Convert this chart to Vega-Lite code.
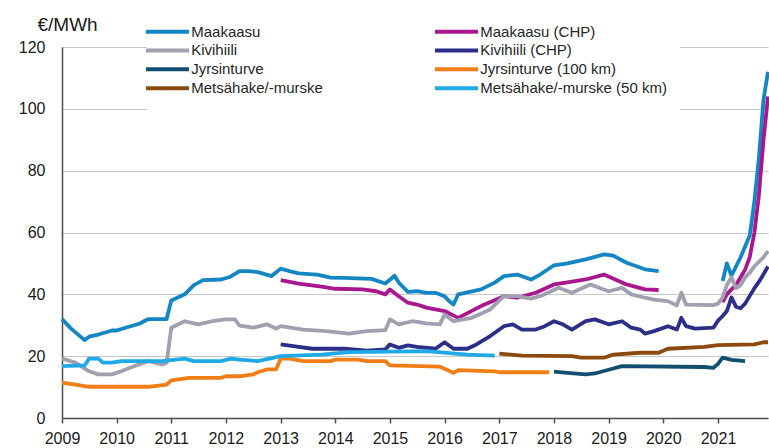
{
  "$schema": "https://vega.github.io/schema/vega-lite/v6.json",
  "autosize": {"type": "none"},
  "width": 706,
  "height": 371,
  "padding": {"left": 62, "top": 47, "right": 1, "bottom": 30},
  "background": "white",
  "config": {
    "font": "Liberation Sans",
    "view": {"stroke": null}
  },
  "data": {
    "values": [
      {"s": "Maakaasu", "p": 1, "d": "2009-01-01", "v": 32},
      {"s": "Maakaasu", "p": 1, "d": "2009-03-01", "v": 29},
      {"s": "Maakaasu", "p": 1, "d": "2009-06-01", "v": 25.2},
      {"s": "Maakaasu", "p": 1, "d": "2009-07-01", "v": 26.3},
      {"s": "Maakaasu", "p": 1, "d": "2009-09-01", "v": 27},
      {"s": "Maakaasu", "p": 1, "d": "2009-12-01", "v": 28.3},
      {"s": "Maakaasu", "p": 1, "d": "2010-01-01", "v": 28.3},
      {"s": "Maakaasu", "p": 1, "d": "2010-03-01", "v": 29.2},
      {"s": "Maakaasu", "p": 1, "d": "2010-06-01", "v": 30.5},
      {"s": "Maakaasu", "p": 1, "d": "2010-08-01", "v": 32},
      {"s": "Maakaasu", "p": 1, "d": "2010-12-01", "v": 32},
      {"s": "Maakaasu", "p": 1, "d": "2011-01-01", "v": 38},
      {"s": "Maakaasu", "p": 1, "d": "2011-04-01", "v": 40},
      {"s": "Maakaasu", "p": 1, "d": "2011-06-01", "v": 43},
      {"s": "Maakaasu", "p": 1, "d": "2011-08-01", "v": 44.6},
      {"s": "Maakaasu", "p": 1, "d": "2011-12-01", "v": 44.8},
      {"s": "Maakaasu", "p": 1, "d": "2012-02-01", "v": 45.7},
      {"s": "Maakaasu", "p": 1, "d": "2012-04-01", "v": 47.5},
      {"s": "Maakaasu", "p": 1, "d": "2012-06-01", "v": 47.5},
      {"s": "Maakaasu", "p": 1, "d": "2012-08-01", "v": 47.2},
      {"s": "Maakaasu", "p": 1, "d": "2012-11-01", "v": 45.9},
      {"s": "Maakaasu", "p": 1, "d": "2013-01-01", "v": 48.3},
      {"s": "Maakaasu", "p": 1, "d": "2013-03-01", "v": 47.5},
      {"s": "Maakaasu", "p": 1, "d": "2013-05-01", "v": 46.8},
      {"s": "Maakaasu", "p": 1, "d": "2013-09-01", "v": 46.4},
      {"s": "Maakaasu", "p": 1, "d": "2013-12-01", "v": 45.4},
      {"s": "Maakaasu", "p": 1, "d": "2014-03-01", "v": 45.3},
      {"s": "Maakaasu", "p": 1, "d": "2014-09-01", "v": 45.0},
      {"s": "Maakaasu", "p": 1, "d": "2014-12-01", "v": 43.5},
      {"s": "Maakaasu", "p": 1, "d": "2015-02-01", "v": 46},
      {"s": "Maakaasu", "p": 1, "d": "2015-03-01", "v": 43.8},
      {"s": "Maakaasu", "p": 1, "d": "2015-05-01", "v": 40.8},
      {"s": "Maakaasu", "p": 1, "d": "2015-07-01", "v": 41},
      {"s": "Maakaasu", "p": 1, "d": "2015-09-01", "v": 40.5},
      {"s": "Maakaasu", "p": 1, "d": "2015-11-01", "v": 40.5},
      {"s": "Maakaasu", "p": 1, "d": "2016-01-01", "v": 39.4},
      {"s": "Maakaasu", "p": 1, "d": "2016-02-01", "v": 37.8},
      {"s": "Maakaasu", "p": 1, "d": "2016-03-01", "v": 36.7},
      {"s": "Maakaasu", "p": 1, "d": "2016-04-01", "v": 40},
      {"s": "Maakaasu", "p": 1, "d": "2016-09-01", "v": 41.6},
      {"s": "Maakaasu", "p": 1, "d": "2016-12-01", "v": 43.8},
      {"s": "Maakaasu", "p": 1, "d": "2017-02-01", "v": 45.9},
      {"s": "Maakaasu", "p": 1, "d": "2017-05-01", "v": 46.4},
      {"s": "Maakaasu", "p": 1, "d": "2017-08-01", "v": 44.8},
      {"s": "Maakaasu", "p": 1, "d": "2017-10-01", "v": 46.4},
      {"s": "Maakaasu", "p": 1, "d": "2018-01-01", "v": 49.4},
      {"s": "Maakaasu", "p": 1, "d": "2018-04-01", "v": 50},
      {"s": "Maakaasu", "p": 1, "d": "2018-08-01", "v": 51.3},
      {"s": "Maakaasu", "p": 1, "d": "2018-12-01", "v": 52.9},
      {"s": "Maakaasu", "p": 1, "d": "2019-02-01", "v": 52.5},
      {"s": "Maakaasu", "p": 1, "d": "2019-05-01", "v": 50.2},
      {"s": "Maakaasu", "p": 1, "d": "2019-09-01", "v": 48.1},
      {"s": "Maakaasu", "p": 1, "d": "2019-12-01", "v": 47.5},
      {"s": "Maakaasu", "p": 2, "d": "2021-02-01", "v": 44.3},
      {"s": "Maakaasu", "p": 2, "d": "2021-03-01", "v": 50},
      {"s": "Maakaasu", "p": 2, "d": "2021-04-01", "v": 46},
      {"s": "Maakaasu", "p": 2, "d": "2021-05-01", "v": 49},
      {"s": "Maakaasu", "p": 2, "d": "2021-06-01", "v": 52},
      {"s": "Maakaasu", "p": 2, "d": "2021-07-01", "v": 55.5},
      {"s": "Maakaasu", "p": 2, "d": "2021-08-01", "v": 59},
      {"s": "Maakaasu", "p": 2, "d": "2021-09-01", "v": 70},
      {"s": "Maakaasu", "p": 2, "d": "2021-10-01", "v": 84},
      {"s": "Maakaasu", "p": 2, "d": "2021-11-01", "v": 103},
      {"s": "Maakaasu", "p": 2, "d": "2021-12-01", "v": 112},

      {"s": "Maakaasu (CHP)", "p": 1, "d": "2013-01-01", "v": 44.6},
      {"s": "Maakaasu (CHP)", "p": 1, "d": "2013-05-01", "v": 43.5},
      {"s": "Maakaasu (CHP)", "p": 1, "d": "2013-10-01", "v": 42.5},
      {"s": "Maakaasu (CHP)", "p": 1, "d": "2014-01-01", "v": 41.8},
      {"s": "Maakaasu (CHP)", "p": 1, "d": "2014-07-01", "v": 41.6},
      {"s": "Maakaasu (CHP)", "p": 1, "d": "2014-10-01", "v": 41.0},
      {"s": "Maakaasu (CHP)", "p": 1, "d": "2014-12-01", "v": 40.0},
      {"s": "Maakaasu (CHP)", "p": 1, "d": "2015-01-01", "v": 41.6},
      {"s": "Maakaasu (CHP)", "p": 1, "d": "2015-03-01", "v": 39.4},
      {"s": "Maakaasu (CHP)", "p": 1, "d": "2015-05-01", "v": 37.3},
      {"s": "Maakaasu (CHP)", "p": 1, "d": "2015-07-01", "v": 36.7},
      {"s": "Maakaasu (CHP)", "p": 1, "d": "2015-09-01", "v": 35.7},
      {"s": "Maakaasu (CHP)", "p": 1, "d": "2016-01-01", "v": 34.6},
      {"s": "Maakaasu (CHP)", "p": 1, "d": "2016-04-01", "v": 32.4},
      {"s": "Maakaasu (CHP)", "p": 1, "d": "2016-09-01", "v": 36.2},
      {"s": "Maakaasu (CHP)", "p": 1, "d": "2017-02-01", "v": 39.4},
      {"s": "Maakaasu (CHP)", "p": 1, "d": "2017-05-01", "v": 38.9},
      {"s": "Maakaasu (CHP)", "p": 1, "d": "2017-09-01", "v": 40.5},
      {"s": "Maakaasu (CHP)", "p": 1, "d": "2018-01-01", "v": 43.2},
      {"s": "Maakaasu (CHP)", "p": 1, "d": "2018-04-01", "v": 43.9},
      {"s": "Maakaasu (CHP)", "p": 1, "d": "2018-08-01", "v": 44.8},
      {"s": "Maakaasu (CHP)", "p": 1, "d": "2018-12-01", "v": 46.4},
      {"s": "Maakaasu (CHP)", "p": 1, "d": "2019-05-01", "v": 43.2},
      {"s": "Maakaasu (CHP)", "p": 1, "d": "2019-09-01", "v": 41.6},
      {"s": "Maakaasu (CHP)", "p": 1, "d": "2019-12-01", "v": 41.4},
      {"s": "Maakaasu (CHP)", "p": 2, "d": "2021-02-01", "v": 37.5},
      {"s": "Maakaasu (CHP)", "p": 2, "d": "2021-03-01", "v": 40},
      {"s": "Maakaasu (CHP)", "p": 2, "d": "2021-04-01", "v": 41.6},
      {"s": "Maakaasu (CHP)", "p": 2, "d": "2021-05-01", "v": 43},
      {"s": "Maakaasu (CHP)", "p": 2, "d": "2021-06-01", "v": 45.5},
      {"s": "Maakaasu (CHP)", "p": 2, "d": "2021-07-01", "v": 48},
      {"s": "Maakaasu (CHP)", "p": 2, "d": "2021-08-01", "v": 52},
      {"s": "Maakaasu (CHP)", "p": 2, "d": "2021-09-01", "v": 60},
      {"s": "Maakaasu (CHP)", "p": 2, "d": "2021-10-01", "v": 72},
      {"s": "Maakaasu (CHP)", "p": 2, "d": "2021-11-01", "v": 90},
      {"s": "Maakaasu (CHP)", "p": 2, "d": "2021-12-01", "v": 104},

      {"s": "Kivihiili", "p": 1, "d": "2009-01-01", "v": 19.2},
      {"s": "Kivihiili", "p": 1, "d": "2009-04-01", "v": 17.9},
      {"s": "Kivihiili", "p": 1, "d": "2009-07-01", "v": 15.1},
      {"s": "Kivihiili", "p": 1, "d": "2009-09-01", "v": 14.1},
      {"s": "Kivihiili", "p": 1, "d": "2009-12-01", "v": 14.1},
      {"s": "Kivihiili", "p": 1, "d": "2010-02-01", "v": 15.1},
      {"s": "Kivihiili", "p": 1, "d": "2010-05-01", "v": 16.8},
      {"s": "Kivihiili", "p": 1, "d": "2010-08-01", "v": 18.4},
      {"s": "Kivihiili", "p": 1, "d": "2010-11-01", "v": 17.3},
      {"s": "Kivihiili", "p": 1, "d": "2010-12-01", "v": 17.9},
      {"s": "Kivihiili", "p": 1, "d": "2011-01-01", "v": 29.2},
      {"s": "Kivihiili", "p": 1, "d": "2011-04-01", "v": 31.3},
      {"s": "Kivihiili", "p": 1, "d": "2011-07-01", "v": 30.3},
      {"s": "Kivihiili", "p": 1, "d": "2011-10-01", "v": 31.3},
      {"s": "Kivihiili", "p": 1, "d": "2012-01-01", "v": 31.9},
      {"s": "Kivihiili", "p": 1, "d": "2012-03-01", "v": 31.9},
      {"s": "Kivihiili", "p": 1, "d": "2012-04-01", "v": 29.9},
      {"s": "Kivihiili", "p": 1, "d": "2012-07-01", "v": 29.2},
      {"s": "Kivihiili", "p": 1, "d": "2012-10-01", "v": 30.3},
      {"s": "Kivihiili", "p": 1, "d": "2012-12-01", "v": 28.9},
      {"s": "Kivihiili", "p": 1, "d": "2013-01-01", "v": 29.7},
      {"s": "Kivihiili", "p": 1, "d": "2013-06-01", "v": 28.6},
      {"s": "Kivihiili", "p": 1, "d": "2013-11-01", "v": 28.1},
      {"s": "Kivihiili", "p": 1, "d": "2014-04-01", "v": 27.3},
      {"s": "Kivihiili", "p": 1, "d": "2014-08-01", "v": 28.1},
      {"s": "Kivihiili", "p": 1, "d": "2014-12-01", "v": 28.4},
      {"s": "Kivihiili", "p": 1, "d": "2015-01-01", "v": 31.9},
      {"s": "Kivihiili", "p": 1, "d": "2015-03-01", "v": 30.3},
      {"s": "Kivihiili", "p": 1, "d": "2015-06-01", "v": 31.3},
      {"s": "Kivihiili", "p": 1, "d": "2015-09-01", "v": 30.6},
      {"s": "Kivihiili", "p": 1, "d": "2015-12-01", "v": 30.3},
      {"s": "Kivihiili", "p": 1, "d": "2016-01-01", "v": 33.5},
      {"s": "Kivihiili", "p": 1, "d": "2016-03-01", "v": 31.3},
      {"s": "Kivihiili", "p": 1, "d": "2016-07-01", "v": 32.4},
      {"s": "Kivihiili", "p": 1, "d": "2016-11-01", "v": 35.1},
      {"s": "Kivihiili", "p": 1, "d": "2017-02-01", "v": 39.4},
      {"s": "Kivihiili", "p": 1, "d": "2017-05-01", "v": 39.4},
      {"s": "Kivihiili", "p": 1, "d": "2017-08-01", "v": 38.6},
      {"s": "Kivihiili", "p": 1, "d": "2017-10-01", "v": 39.4},
      {"s": "Kivihiili", "p": 1, "d": "2018-02-01", "v": 42.1},
      {"s": "Kivihiili", "p": 1, "d": "2018-05-01", "v": 40.5},
      {"s": "Kivihiili", "p": 1, "d": "2018-09-01", "v": 43.2},
      {"s": "Kivihiili", "p": 1, "d": "2019-01-01", "v": 41.0},
      {"s": "Kivihiili", "p": 1, "d": "2019-04-01", "v": 42.1},
      {"s": "Kivihiili", "p": 1, "d": "2019-06-01", "v": 40.0},
      {"s": "Kivihiili", "p": 1, "d": "2019-09-01", "v": 38.9},
      {"s": "Kivihiili", "p": 1, "d": "2019-11-01", "v": 38.3},
      {"s": "Kivihiili", "p": 1, "d": "2020-02-01", "v": 37.8},
      {"s": "Kivihiili", "p": 1, "d": "2020-04-01", "v": 36.4},
      {"s": "Kivihiili", "p": 1, "d": "2020-05-01", "v": 40.5},
      {"s": "Kivihiili", "p": 1, "d": "2020-06-01", "v": 36.7},
      {"s": "Kivihiili", "p": 1, "d": "2020-12-01", "v": 36.5},
      {"s": "Kivihiili", "p": 1, "d": "2021-01-01", "v": 37},
      {"s": "Kivihiili", "p": 1, "d": "2021-02-01", "v": 39},
      {"s": "Kivihiili", "p": 1, "d": "2021-03-01", "v": 43},
      {"s": "Kivihiili", "p": 1, "d": "2021-04-01", "v": 45.5},
      {"s": "Kivihiili", "p": 1, "d": "2021-05-01", "v": 42},
      {"s": "Kivihiili", "p": 1, "d": "2021-06-01", "v": 43},
      {"s": "Kivihiili", "p": 1, "d": "2021-07-01", "v": 45.5},
      {"s": "Kivihiili", "p": 1, "d": "2021-08-01", "v": 47},
      {"s": "Kivihiili", "p": 1, "d": "2021-09-01", "v": 49},
      {"s": "Kivihiili", "p": 1, "d": "2021-10-01", "v": 50.5},
      {"s": "Kivihiili", "p": 1, "d": "2021-11-01", "v": 52},
      {"s": "Kivihiili", "p": 1, "d": "2021-12-01", "v": 54},

      {"s": "Kivihiili (CHP)", "p": 1, "d": "2013-01-01", "v": 23.8},
      {"s": "Kivihiili (CHP)", "p": 1, "d": "2013-05-01", "v": 23.0},
      {"s": "Kivihiili (CHP)", "p": 1, "d": "2013-08-01", "v": 22.4},
      {"s": "Kivihiili (CHP)", "p": 1, "d": "2014-03-01", "v": 22.4},
      {"s": "Kivihiili (CHP)", "p": 1, "d": "2014-08-01", "v": 21.8},
      {"s": "Kivihiili (CHP)", "p": 1, "d": "2014-12-01", "v": 22.2},
      {"s": "Kivihiili (CHP)", "p": 1, "d": "2015-01-01", "v": 23.8},
      {"s": "Kivihiili (CHP)", "p": 1, "d": "2015-03-01", "v": 22.7},
      {"s": "Kivihiili (CHP)", "p": 1, "d": "2015-05-01", "v": 23.5},
      {"s": "Kivihiili (CHP)", "p": 1, "d": "2015-07-01", "v": 23.0},
      {"s": "Kivihiili (CHP)", "p": 1, "d": "2015-11-01", "v": 22.4},
      {"s": "Kivihiili (CHP)", "p": 1, "d": "2016-01-01", "v": 24.5},
      {"s": "Kivihiili (CHP)", "p": 1, "d": "2016-03-01", "v": 22.4},
      {"s": "Kivihiili (CHP)", "p": 1, "d": "2016-06-01", "v": 22.4},
      {"s": "Kivihiili (CHP)", "p": 1, "d": "2016-08-01", "v": 23.8},
      {"s": "Kivihiili (CHP)", "p": 1, "d": "2016-11-01", "v": 26.5},
      {"s": "Kivihiili (CHP)", "p": 1, "d": "2017-02-01", "v": 29.7},
      {"s": "Kivihiili (CHP)", "p": 1, "d": "2017-04-01", "v": 30.3},
      {"s": "Kivihiili (CHP)", "p": 1, "d": "2017-06-01", "v": 28.6},
      {"s": "Kivihiili (CHP)", "p": 1, "d": "2017-09-01", "v": 28.6},
      {"s": "Kivihiili (CHP)", "p": 1, "d": "2017-11-01", "v": 29.7},
      {"s": "Kivihiili (CHP)", "p": 1, "d": "2018-01-01", "v": 31.3},
      {"s": "Kivihiili (CHP)", "p": 1, "d": "2018-03-01", "v": 30.3},
      {"s": "Kivihiili (CHP)", "p": 1, "d": "2018-05-01", "v": 28.6},
      {"s": "Kivihiili (CHP)", "p": 1, "d": "2018-08-01", "v": 31.3},
      {"s": "Kivihiili (CHP)", "p": 1, "d": "2018-10-01", "v": 31.9},
      {"s": "Kivihiili (CHP)", "p": 1, "d": "2019-01-01", "v": 30.3},
      {"s": "Kivihiili (CHP)", "p": 1, "d": "2019-04-01", "v": 31.3},
      {"s": "Kivihiili (CHP)", "p": 1, "d": "2019-06-01", "v": 29.2},
      {"s": "Kivihiili (CHP)", "p": 1, "d": "2019-08-01", "v": 28.6},
      {"s": "Kivihiili (CHP)", "p": 1, "d": "2019-09-01", "v": 27.3},
      {"s": "Kivihiili (CHP)", "p": 1, "d": "2019-11-01", "v": 28.1},
      {"s": "Kivihiili (CHP)", "p": 1, "d": "2020-02-01", "v": 29.7},
      {"s": "Kivihiili (CHP)", "p": 1, "d": "2020-04-01", "v": 28.6},
      {"s": "Kivihiili (CHP)", "p": 1, "d": "2020-05-01", "v": 32.4},
      {"s": "Kivihiili (CHP)", "p": 1, "d": "2020-06-01", "v": 29.7},
      {"s": "Kivihiili (CHP)", "p": 1, "d": "2020-08-01", "v": 28.9},
      {"s": "Kivihiili (CHP)", "p": 1, "d": "2020-12-01", "v": 29.2},
      {"s": "Kivihiili (CHP)", "p": 1, "d": "2021-01-01", "v": 31.5},
      {"s": "Kivihiili (CHP)", "p": 1, "d": "2021-02-01", "v": 33},
      {"s": "Kivihiili (CHP)", "p": 1, "d": "2021-03-01", "v": 34.6},
      {"s": "Kivihiili (CHP)", "p": 1, "d": "2021-04-01", "v": 39},
      {"s": "Kivihiili (CHP)", "p": 1, "d": "2021-05-01", "v": 36},
      {"s": "Kivihiili (CHP)", "p": 1, "d": "2021-06-01", "v": 35.5},
      {"s": "Kivihiili (CHP)", "p": 1, "d": "2021-07-01", "v": 37},
      {"s": "Kivihiili (CHP)", "p": 1, "d": "2021-08-01", "v": 39.5},
      {"s": "Kivihiili (CHP)", "p": 1, "d": "2021-09-01", "v": 42},
      {"s": "Kivihiili (CHP)", "p": 1, "d": "2021-10-01", "v": 44},
      {"s": "Kivihiili (CHP)", "p": 1, "d": "2021-11-01", "v": 46.5},
      {"s": "Kivihiili (CHP)", "p": 1, "d": "2021-12-01", "v": 49},

      {"s": "Jyrsinturve", "p": 1, "d": "2018-01-01", "v": 15.0},
      {"s": "Jyrsinturve", "p": 1, "d": "2018-04-01", "v": 14.6},
      {"s": "Jyrsinturve", "p": 1, "d": "2018-08-01", "v": 14.1},
      {"s": "Jyrsinturve", "p": 1, "d": "2018-10-01", "v": 14.4},
      {"s": "Jyrsinturve", "p": 1, "d": "2019-01-01", "v": 15.6},
      {"s": "Jyrsinturve", "p": 1, "d": "2019-04-01", "v": 16.8},
      {"s": "Jyrsinturve", "p": 1, "d": "2020-10-01", "v": 16.5},
      {"s": "Jyrsinturve", "p": 1, "d": "2020-12-01", "v": 16.2},
      {"s": "Jyrsinturve", "p": 1, "d": "2021-01-01", "v": 17.5},
      {"s": "Jyrsinturve", "p": 1, "d": "2021-02-01", "v": 19.5},
      {"s": "Jyrsinturve", "p": 1, "d": "2021-04-01", "v": 18.8},
      {"s": "Jyrsinturve", "p": 1, "d": "2021-07-01", "v": 18.4},

      {"s": "Jyrsinturve (100 km)", "p": 1, "d": "2009-01-01", "v": 11.4},
      {"s": "Jyrsinturve (100 km)", "p": 1, "d": "2009-04-01", "v": 10.8},
      {"s": "Jyrsinturve (100 km)", "p": 1, "d": "2009-07-01", "v": 10.1},
      {"s": "Jyrsinturve (100 km)", "p": 1, "d": "2010-08-01", "v": 10.1},
      {"s": "Jyrsinturve (100 km)", "p": 1, "d": "2010-12-01", "v": 10.8},
      {"s": "Jyrsinturve (100 km)", "p": 1, "d": "2011-01-01", "v": 12.2},
      {"s": "Jyrsinturve (100 km)", "p": 1, "d": "2011-05-01", "v": 13.0},
      {"s": "Jyrsinturve (100 km)", "p": 1, "d": "2011-12-01", "v": 13.0},
      {"s": "Jyrsinturve (100 km)", "p": 1, "d": "2012-01-01", "v": 13.5},
      {"s": "Jyrsinturve (100 km)", "p": 1, "d": "2012-04-01", "v": 13.5},
      {"s": "Jyrsinturve (100 km)", "p": 1, "d": "2012-07-01", "v": 14.1},
      {"s": "Jyrsinturve (100 km)", "p": 1, "d": "2012-08-01", "v": 14.8},
      {"s": "Jyrsinturve (100 km)", "p": 1, "d": "2012-10-01", "v": 15.7},
      {"s": "Jyrsinturve (100 km)", "p": 1, "d": "2012-12-01", "v": 15.7},
      {"s": "Jyrsinturve (100 km)", "p": 1, "d": "2013-01-01", "v": 19.2},
      {"s": "Jyrsinturve (100 km)", "p": 1, "d": "2013-03-01", "v": 19.2},
      {"s": "Jyrsinturve (100 km)", "p": 1, "d": "2013-06-01", "v": 18.4},
      {"s": "Jyrsinturve (100 km)", "p": 1, "d": "2013-12-01", "v": 18.4},
      {"s": "Jyrsinturve (100 km)", "p": 1, "d": "2014-01-01", "v": 18.9},
      {"s": "Jyrsinturve (100 km)", "p": 1, "d": "2014-06-01", "v": 18.9},
      {"s": "Jyrsinturve (100 km)", "p": 1, "d": "2014-08-01", "v": 18.4},
      {"s": "Jyrsinturve (100 km)", "p": 1, "d": "2014-12-01", "v": 18.4},
      {"s": "Jyrsinturve (100 km)", "p": 1, "d": "2015-01-01", "v": 17.0},
      {"s": "Jyrsinturve (100 km)", "p": 1, "d": "2015-12-01", "v": 16.6},
      {"s": "Jyrsinturve (100 km)", "p": 1, "d": "2016-03-01", "v": 14.6},
      {"s": "Jyrsinturve (100 km)", "p": 1, "d": "2016-04-01", "v": 15.5},
      {"s": "Jyrsinturve (100 km)", "p": 1, "d": "2016-12-01", "v": 15.1},
      {"s": "Jyrsinturve (100 km)", "p": 1, "d": "2017-01-01", "v": 14.8},
      {"s": "Jyrsinturve (100 km)", "p": 1, "d": "2017-12-01", "v": 14.8},

      {"s": "Metsähake/-murske", "p": 1, "d": "2017-01-01", "v": 20.8},
      {"s": "Metsähake/-murske", "p": 1, "d": "2017-06-01", "v": 20.2},
      {"s": "Metsähake/-murske", "p": 1, "d": "2018-05-01", "v": 20.0},
      {"s": "Metsähake/-murske", "p": 1, "d": "2018-07-01", "v": 19.5},
      {"s": "Metsähake/-murske", "p": 1, "d": "2018-12-01", "v": 19.5},
      {"s": "Metsähake/-murske", "p": 1, "d": "2019-02-01", "v": 20.5},
      {"s": "Metsähake/-murske", "p": 1, "d": "2019-08-01", "v": 21.1},
      {"s": "Metsähake/-murske", "p": 1, "d": "2019-12-01", "v": 21.1},
      {"s": "Metsähake/-murske", "p": 1, "d": "2020-02-01", "v": 22.4},
      {"s": "Metsähake/-murske", "p": 1, "d": "2020-10-01", "v": 23.0},
      {"s": "Metsähake/-murske", "p": 1, "d": "2021-01-01", "v": 23.6},
      {"s": "Metsähake/-murske", "p": 1, "d": "2021-09-01", "v": 23.8},
      {"s": "Metsähake/-murske", "p": 1, "d": "2021-11-01", "v": 24.5},
      {"s": "Metsähake/-murske", "p": 1, "d": "2021-12-01", "v": 24.5},

      {"s": "Metsähake/-murske (50 km)", "p": 1, "d": "2009-01-01", "v": 16.8},
      {"s": "Metsähake/-murske (50 km)", "p": 1, "d": "2009-06-01", "v": 17.0},
      {"s": "Metsähake/-murske (50 km)", "p": 1, "d": "2009-07-01", "v": 19.2},
      {"s": "Metsähake/-murske (50 km)", "p": 1, "d": "2009-09-01", "v": 19.2},
      {"s": "Metsähake/-murske (50 km)", "p": 1, "d": "2009-10-01", "v": 17.9},
      {"s": "Metsähake/-murske (50 km)", "p": 1, "d": "2009-12-01", "v": 17.9},
      {"s": "Metsähake/-murske (50 km)", "p": 1, "d": "2010-02-01", "v": 18.4},
      {"s": "Metsähake/-murske (50 km)", "p": 1, "d": "2010-11-01", "v": 18.4},
      {"s": "Metsähake/-murske (50 km)", "p": 1, "d": "2011-04-01", "v": 19.2},
      {"s": "Metsähake/-murske (50 km)", "p": 1, "d": "2011-06-01", "v": 18.4},
      {"s": "Metsähake/-murske (50 km)", "p": 1, "d": "2011-12-01", "v": 18.4},
      {"s": "Metsähake/-murske (50 km)", "p": 1, "d": "2012-02-01", "v": 19.2},
      {"s": "Metsähake/-murske (50 km)", "p": 1, "d": "2012-04-01", "v": 18.9},
      {"s": "Metsähake/-murske (50 km)", "p": 1, "d": "2012-08-01", "v": 18.4},
      {"s": "Metsähake/-murske (50 km)", "p": 1, "d": "2013-01-01", "v": 20.0},
      {"s": "Metsähake/-murske (50 km)", "p": 1, "d": "2013-10-01", "v": 20.5},
      {"s": "Metsähake/-murske (50 km)", "p": 1, "d": "2014-04-01", "v": 21.3},
      {"s": "Metsähake/-murske (50 km)", "p": 1, "d": "2015-09-01", "v": 21.6},
      {"s": "Metsähake/-murske (50 km)", "p": 1, "d": "2016-06-01", "v": 20.5},
      {"s": "Metsähake/-murske (50 km)", "p": 1, "d": "2016-12-01", "v": 20.2}
    ]
  },
  "mark": {"type": "line", "strokeWidth": 3.8, "strokeJoin": "round", "strokeCap": "butt", "clip": false},
  "encoding": {
    "x": {
      "field": "d",
      "type": "temporal",
      "scale": {
        "type": "utc",
        "domain": [
          {"year": 2009, "month": 1, "date": 1, "utc": true},
          {"year": 2021, "month": 12, "date": 1, "utc": true}
        ],
        "nice": false
      },
      "axis": {
        "title": null,
        "format": "%Y",
        "formatType": "utc",
        "tickCount": {"interval": "year", "step": 1},
        "grid": false,
        "domainColor": "#4d4d4d",
        "domainWidth": 1.5,
        "tickColor": "#4d4d4d",
        "tickWidth": 1.5,
        "tickSize": 5,
        "labelFontSize": 16,
        "labelColor": "#1a1a1a",
        "labelPadding": 7,
        "labelFlush": false,
        "labelOverlap": false
      }
    },
    "y": {
      "field": "v",
      "type": "quantitative",
      "scale": {"domain": [0, 120], "nice": false, "zero": true},
      "axis": {
        "values": [0, 20, 40, 60, 80, 100, 120],
        "title": "€/MWh",
        "titleAngle": 0,
        "titleAlign": "left",
        "titleBaseline": "alphabetic",
        "titleX": -25,
        "titleY": -17,
        "titleFontSize": 19,
        "titleFontWeight": "normal",
        "titleColor": "#1a1a1a",
        "ticks": false,
        "labelPadding": 17,
        "labelFontSize": 16,
        "labelColor": "#1a1a1a",
        "domainColor": "#4d4d4d",
        "domainWidth": 1.5,
        "gridColor": "#c8c8c8",
        "gridWidth": 1.2
      }
    },
    "color": {
      "field": "s",
      "type": "nominal",
      "scale": {
        "domain": ["Maakaasu", "Kivihiili", "Jyrsinturve", "Metsähake/-murske", "Maakaasu (CHP)", "Kivihiili (CHP)", "Jyrsinturve (100 km)", "Metsähake/-murske (50 km)"],
        "range": ["#1486C4", "#A0A0B0", "#114E6F", "#8C4A0E", "#A9178F", "#2B2F87", "#F07E14", "#1FA9E6"]
      },
      "legend": {
        "title": null,
        "orient": "none",
        "legendX": 85,
        "legendY": -36,
        "columns": 2,
        "columnPadding": 103,
        "rowPadding": 1.9,
        "padding": 13,
        "fillColor": "white",
        "symbolType": "M-5,0H5",
        "symbolSize": 74,
        "symbolStrokeWidth": 4,
        "labelFontSize": 15,
        "labelColor": "#262626",
        "labelOffset": 16.2,
        "labelLimit": 300
      }
    },
    "detail": {"field": "p", "type": "nominal"},
    "order": {"field": "d", "type": "temporal"}
  }
}
